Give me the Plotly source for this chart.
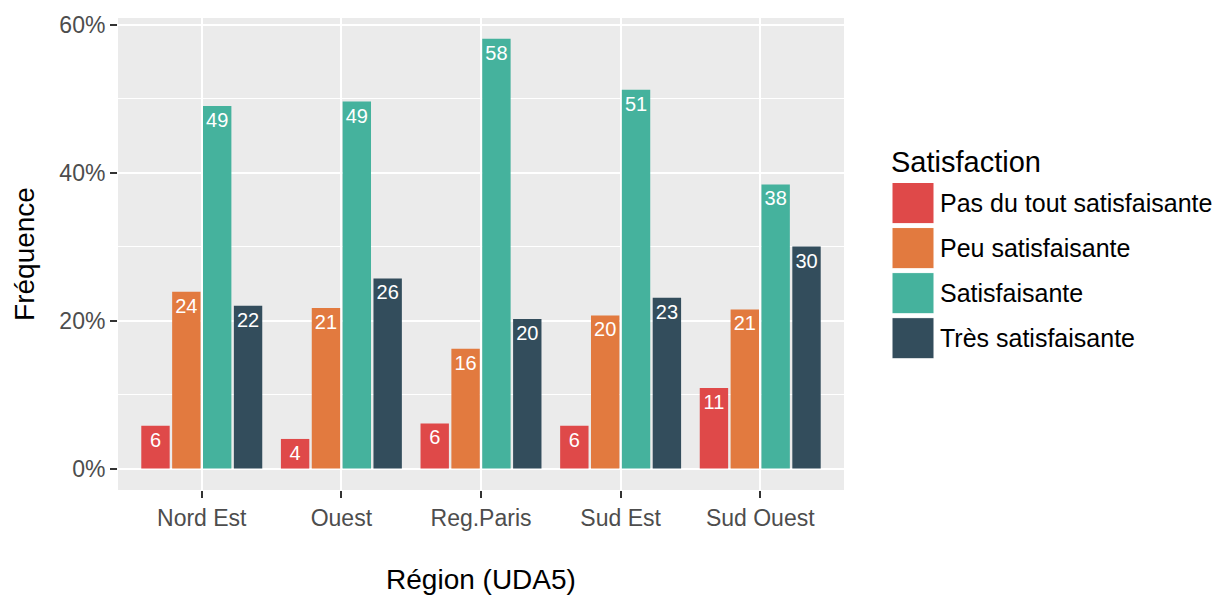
import plotly.graph_objects as go

regions = ["Nord Est", "Ouest", "Reg.Paris", "Sud Est", "Sud Ouest"]
series_names = ["Pas du tout satisfaisante", "Peu satisfaisante", "Satisfaisante", "Très satisfaisante"]
colors = ["#DF4949", "#E27A3F", "#45B29D", "#334D5C"]

pas_du_tout = [5.8, 4.0, 6.1, 5.8, 10.9]
peu = [23.9, 21.7, 16.2, 20.7, 21.5]
satisf = [49.0, 49.6, 58.1, 51.2, 38.4]
tres = [22.0, 25.7, 20.2, 23.1, 30.0]
values = [pas_du_tout, peu, satisf, tres]

lab_pas = ["6", "4", "6", "6", "11"]
lab_peu = ["24", "21", "16", "20", "21"]
lab_sat = ["49", "49", "58", "51", "38"]
lab_tres = ["22", "26", "20", "23", "30"]
labels = [lab_pas, lab_peu, lab_sat, lab_tres]

y_ticks = [0, 20, 40, 60]
y_tick_text = ["0%", "20%", "40%", "60%"]

W, H = 1220, 601
PL, PR, PT, PB = 118, 844, 13, 495
FONT = "Liberation Sans, Arial"


def px_x(x):
    return (x - PL) / (PR - PL)


def px_y(y):
    return (PB - y) / (PB - PT)


fig = go.Figure()
for name, vals, labs, col in zip(series_names, values, labels, colors):
    fig.add_trace(go.Bar(
        x=regions, y=vals, name=name, text=labs,
        textposition="inside", insidetextanchor="end",
        textfont=dict(color="white", size=20, family=FONT),
        marker=dict(color=col, line=dict(width=0)),
        showlegend=False, hoverinfo="skip",
    ))

shapes = []
annotations = []
annotations.append(dict(
    x=px_x(889), y=px_y(160), xref="paper", yref="paper", xanchor="left", yanchor="middle",
    text="Satisfaction", showarrow=False,
    font=dict(size=29, color="black", family=FONT),
))
for i, (name, col) in enumerate(zip(series_names, colors)):
    top = 181 + i * 46
    bot = top + 42
    shapes.append(dict(
        type="rect", xref="paper", yref="paper",
        x0=px_x(892), x1=px_x(934), y0=px_y(bot), y1=px_y(top),
        fillcolor=col, line=dict(color="white", width=1),
    ))
    annotations.append(dict(
        x=px_x(938), y=px_y((top + bot) / 2), xref="paper", yref="paper",
        xanchor="left", yanchor="middle", text=name, showarrow=False,
        font=dict(size=25, color="black", family=FONT),
    ))

fig.update_layout(
    width=W, height=H,
    margin=dict(l=PL, r=W - PR, t=PT, b=H - PB),
    paper_bgcolor="white", plot_bgcolor="#EBEBEB",
    barmode="group", bargap=0.116, bargroupgap=0.08,
    uniformtext=dict(minsize=20, mode="show"),
    font=dict(family=FONT, size=23, color="#4D4D4D"),
    shapes=shapes, annotations=annotations,
    showlegend=False,
)
fig.update_xaxes(
    type="category", range=[-0.6, 4.6],
    showgrid=True, gridcolor="white", gridwidth=2,
    ticks="outside", ticklen=7, tickwidth=1.5, tickcolor="#333333",
    tickfont=dict(size=23, color="#4D4D4D"),
    title=dict(text="Région (UDA5)", font=dict(size=28, color="black"), standoff=39),
    zeroline=False, showline=False,
)
fig.update_yaxes(
    range=[-2.9, 60.9], tickvals=y_ticks, ticktext=y_tick_text,
    showgrid=True, gridcolor="white", gridwidth=2,
    minor=dict(showgrid=True, gridcolor="white", gridwidth=1, dtick=10, tick0=0),
    ticks="outside", ticklen=7, tickwidth=1.5, tickcolor="#333333",
    tickfont=dict(size=23, color="#4D4D4D"),
    title=dict(text="Fréquence", font=dict(size=28, color="black"), standoff=16),
    zeroline=False, showline=False,
)

fig.write_html("out.html", config={"displayModeBar": False},
               post_script="document.body.style.margin='0';")
